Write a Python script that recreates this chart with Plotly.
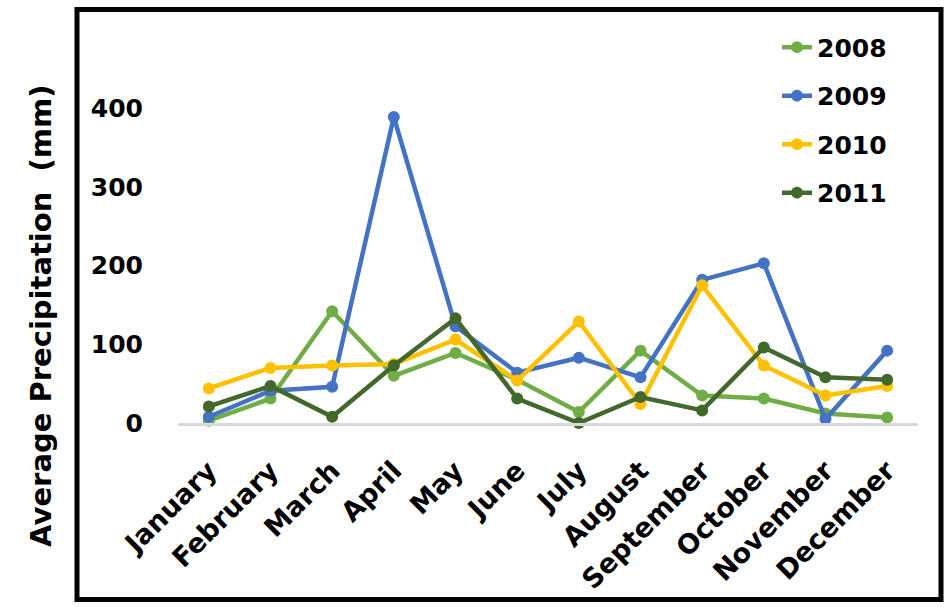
import plotly.graph_objects as go

months = ["January", "February", "March", "April", "May", "June", "July",
          "August", "September", "October", "November", "December"]

rain_2008 = [3, 31, 142, 60, 89, 55, 14, 92, 35, 31, 12, 7]
rain_2009 = [8, 41, 46, 389, 123, 64, 83, 58, 182, 203, 5, 92]
rain_2010 = [44, 70, 73, 75, 106, 54, 129, 24, 175, 73, 35, 47]
rain_2011 = [21, 47, 8, 73, 133, 31, 0, 33, 16, 96, 58, 55]

series = [
    ("2008", rain_2008, "#70AD47"),
    ("2009", rain_2009, "#4472C4"),
    ("2010", rain_2010, "#FFC000"),
    ("2011", rain_2011, "#43682B"),
]

y_ticks = [0, 100, 200, 300, 400]

FONT = "DejaVu Sans"

fig = go.Figure()
for name, values, color in series:
    fig.add_trace(go.Scatter(
        x=months, y=values, name=name, mode="lines+markers",
        line=dict(color=color, width=4.5),
        marker=dict(color=color, size=12),
        legendgroup=name, cliponaxis=False,
    ))

# plot area in pixels: x 178..918, y 69..426
L, R, T, B = 178, 918, 69, 426
W, H = R - L, B - T

def px_x(p):
    return (p - L) / W

def px_y(p):
    return (B - p) / H

fig.update_layout(
    width=945, height=607,
    margin=dict(l=L, r=945 - R, t=T, b=607 - B, pad=0),
    paper_bgcolor="white", plot_bgcolor="white",
    font=dict(family=FONT, color="black", size=24, weight="bold"),
    showlegend=True,
    legend=dict(
        x=px_x(777), y=px_y(24), xanchor="left", yanchor="top",
        font=dict(family=FONT, size=25, weight="bold", color="black"),
        tracegroupgap=13, bgcolor="rgba(0,0,0,0)",
    ),
    xaxis=dict(
        type="category", range=[-0.5, 11.5],
        showgrid=False, zeroline=False,
        showline=True, linecolor="#D9D9D9", linewidth=3,
        tickangle=-45, ticks="", ticklabelstandoff=18,
        tickfont=dict(family=FONT, size=27, weight="bold", color="black"),
    ),
    yaxis=dict(
        range=[0, 450], tickvals=y_ticks, ticktext=[str(v) for v in y_ticks],
        showgrid=False, zeroline=False, showline=False,
        ticks="", ticklabelstandoff=34,
        tickfont=dict(family=FONT, size=25, weight="bold", color="black"),
    ),
    shapes=[dict(
        type="rect", xref="paper", yref="paper",
        x0=px_x(77), x1=px_x(941), y0=px_y(604), y1=px_y(9),
        line=dict(color="black", width=5), fillcolor="rgba(0,0,0,0)",
        layer="above",
    )],
    annotations=[dict(
        text="Average Precipitation  (mm)", textangle=-90,
        xref="paper", yref="paper", x=px_x(41), y=px_y(318),
        xanchor="center", yanchor="middle", showarrow=False,
        font=dict(family=FONT, size=29, weight="bold", color="black"),
    )],
)

fig.write_html("out.html")
